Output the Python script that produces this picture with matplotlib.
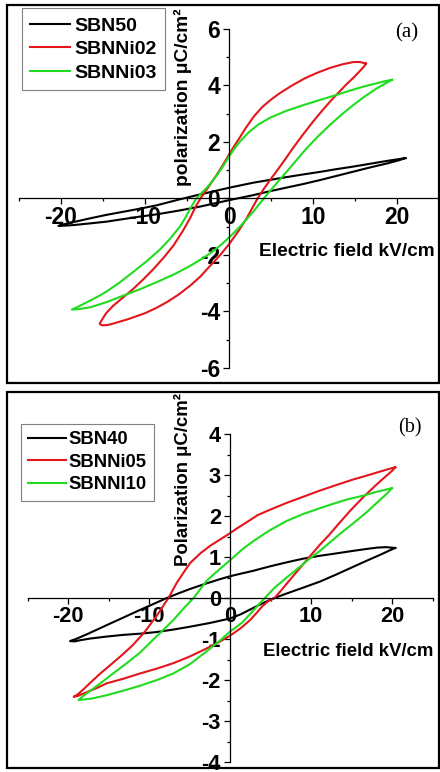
import matplotlib
matplotlib.use("Agg")
import matplotlib.pyplot as plt
from matplotlib.ticker import MultipleLocator
from matplotlib.patches import Rectangle

plt.rcParams['font.family'] = ['Liberation Sans', 'DejaVu Sans']
plt.rcParams['font.weight'] = 'bold'
plt.rcParams['axes.unicode_minus'] = False

# ---------------- Panel (a) data: E (kV/cm), P (uC/cm^2), closed loops ----------------
a_names = ["SBN50", "SBNNi02", "SBNNi03"]

sbn50_E = [21.0, 18.8, 16.8, 14.8, 12.8, 10.8, 8.8, 6.9, 4.9, 2.9, 0.0, -3.5, -6.0, -8.6, -10.6, -12.6,
           -14.6, -16.5, -18.0, -19.5, -20.3,
           -19.5, -18.5, -16.5, -14.6, -12.6, -10.6, -8.6, -6.0, -3.5, 0.0, 2.9, 4.9, 6.9, 8.8, 10.8,
           12.8, 14.8, 16.8, 18.8, 20.2, 21.0]
sbn50_P = [1.43, 1.33, 1.23, 1.13, 1.04, 0.94, 0.85, 0.76, 0.66, 0.56, 0.38, 0.14, -0.04, -0.24, -0.36, -0.47,
           -0.58, -0.70, -0.80, -0.90, -0.97,
           -0.96, -0.94, -0.88, -0.82, -0.73, -0.64, -0.56, -0.43, -0.29, -0.06, 0.12, 0.26, 0.39, 0.51, 0.65,
           0.80, 0.95, 1.10, 1.24, 1.35, 1.43]

sbnni02_E = [16.3, 15.6, 14.8, 13.5, 12.0, 10.5, 9.0, 7.5, 6.0, 5.0, 4.0, 3.0, 2.0, 1.2, 0.5, 0.0, -0.7,
             -1.5, -2.7, -3.4, -4.0, -4.6, -5.5, -6.6, -7.8, -9.0, -10.2, -11.4, -12.6, -13.8, -14.6, -15.1,
             -15.4,
             -15.1, -14.5, -13.8, -12.0, -10.0, -8.7, -7.4, -6.0, -4.6, -3.4, -2.3, -1.1, 0.0, 1.2, 2.1, 2.8,
             3.4, 4.1, 5.0, 5.7, 6.6, 7.65, 8.8, 10.0, 11.2, 12.4, 13.3, 14.0, 14.9, 15.6, 16.1, 16.3]
sbnni02_P = [4.78, 4.83, 4.83, 4.75, 4.62, 4.45, 4.25, 4.00, 3.72, 3.50, 3.25, 2.92, 2.50, 2.12, 1.80, 1.55, 1.20,
             0.82, 0.30, 0.0, -0.30, -0.68, -1.15, -1.66, -2.10, -2.50, -2.86, -3.20, -3.50, -3.80, -4.05, -4.28,
             -4.44,
             -4.49, -4.48, -4.43, -4.27, -4.06, -3.88, -3.67, -3.40, -3.08, -2.76, -2.40, -2.02, -1.62, -1.12, -0.70,
             -0.32, 0.0, 0.32, 0.70, 0.98, 1.35, 1.80, 2.26, 2.72, 3.15, 3.55, 3.83, 4.05, 4.30, 4.52, 4.68, 4.78]

sbnni03_E = [19.4, 18.5, 17.6, 16.0, 14.2, 12.4, 10.5, 8.8, 6.8, 4.9, 3.6, 2.4, 1.4, 0.6, 0.0, -0.8, -1.7,
             -2.65, -3.9, -4.6, -5.2, -5.8, -7.0, -8.2, -9.8, -11.4, -13.0, -14.6, -15.8, -16.9, -17.9, -18.7,
             -18.0, -16.5, -14.5, -12.6, -10.5, -8.6, -6.5, -4.6, -3.2, -1.9, -0.8, 0.0, 0.8, 1.5, 2.2, 2.9,
             3.6, 4.2, 4.9, 5.9, 6.9, 8.1, 9.25, 10.6, 12.0, 13.4, 14.8, 16.2, 17.6, 18.6, 19.4]
sbnni03_P = [4.20, 4.15, 4.08, 3.96, 3.80, 3.63, 3.46, 3.30, 3.10, 2.86, 2.64, 2.36, 2.05, 1.75, 1.48, 1.10, 0.72,
             0.38, 0.0, -0.35, -0.68, -0.98, -1.42, -1.80, -2.22, -2.60, -2.97, -3.30, -3.50, -3.67, -3.82, -3.93,
             -3.92, -3.85, -3.66, -3.44, -3.20, -2.96, -2.68, -2.38, -2.13, -1.87, -1.60, -1.38, -1.15, -0.93, -0.70,
             -0.46, -0.20, 0.02, 0.27, 0.62, 0.96, 1.38, 1.78, 2.20, 2.60, 2.97, 3.31, 3.62, 3.90, 4.07, 4.20]

# ---------------- Panel (b) data ----------------
b_names = ["SBN40", "SBNNi05", "SBNNI10"]

sbn40_E = [20.4, 19.3, 18.2, 17.0, 15.2, 13.2, 11.1, 9.05, 7.0, 4.9, 2.8, 0.83, 0.0, -1.23, -3.0, -4.94,
           -6.4, -7.8, -9.5, -11.1, -13.2, -15.2, -17.5, -18.9, -19.75,
           -19.2, -18.5, -17.3, -15.2, -13.2, -11.1, -9.05, -7.0, -4.94, -2.5, 0.0, 1.3, 2.5, 3.7, 4.9, 5.5,
           7.0, 9.0, 11.1, 13.2, 15.2, 17.0, 18.5, 19.7, 20.4]
sbn40_P = [1.22, 1.24, 1.23, 1.20, 1.15, 1.09, 1.03, 0.96, 0.87, 0.77, 0.66, 0.57, 0.53, 0.46, 0.35, 0.22,
           0.11, 0.0, -0.15, -0.29, -0.48, -0.66, -0.87, -0.99, -1.05,
           -1.06, -1.03, -0.99, -0.94, -0.90, -0.87, -0.83, -0.77, -0.70, -0.61, -0.50, -0.40, -0.28, -0.16, -0.05,
           0.0, 0.11, 0.25, 0.40, 0.58, 0.76, 0.92, 1.05, 1.16, 1.22]

sbnni05_E = [20.4, 19.5, 18.3, 17.3, 15.2, 13.2, 11.1, 9.05, 7.0, 4.9, 3.4, 2.0, 0.8, 0.0, -1.2, -2.4,
             -3.6, -4.94, -5.8, -6.6, -7.6, -8.3, -9.0, -10.5, -12.0, -13.5, -14.8, -16.0, -17.1, -18.1,
             -18.8, -19.3,
             -18.8, -18.1, -16.5, -15.2, -13.0, -11.1, -9.0, -7.0, -5.0, -2.88, -1.4, 0.0, 1.3, 2.47, 3.3,
             4.0, 4.7, 5.5, 6.3, 7.0, 8.5, 9.8, 11.1, 12.2, 13.2, 14.8, 16.5, 18.0, 19.3, 20.0, 20.4]
sbnni05_P = [3.19, 3.14, 3.07, 3.01, 2.89, 2.76, 2.62, 2.47, 2.32, 2.15, 2.02, 1.84, 1.69, 1.58, 1.43, 1.28,
             1.10, 0.85, 0.60, 0.36, 0.0, -0.21, -0.42, -0.82, -1.15, -1.42, -1.64, -1.84, -2.04, -2.23,
             -2.35, -2.41,
             -2.39, -2.33, -2.20, -2.08, -1.96, -1.84, -1.72, -1.59, -1.43, -1.23, -1.08, -0.92, -0.74, -0.54, -0.36,
             -0.20, -0.08, 0.0, 0.18, 0.35, 0.70, 1.00, 1.30, 1.53, 1.76, 2.12, 2.47, 2.75, 2.98, 3.10, 3.19]

sbnni10_E = [20.0, 19.2, 18.3, 16.5, 14.4, 12.3, 10.5, 9.05, 7.0, 4.9, 3.2, 1.6, 0.0, -1.3, -2.88, -4.5,
             -5.8, -7.0, -8.2, -9.3, -11.1, -12.75, -14.5, -16.0, -17.5, -18.2, -18.7,
             -17.8, -17.0, -15.2, -13.0, -11.1, -9.0, -7.0, -5.0, -2.88, -1.3, 0.0, 1.5, 2.9, 4.3, 5.5, 7.0,
             8.5, 9.9, 11.1, 12.3, 13.8, 15.2, 16.8, 18.5, 19.4, 20.0]
sbnni10_P = [2.68, 2.64, 2.60, 2.50, 2.40, 2.27, 2.15, 2.05, 1.88, 1.65, 1.43, 1.20, 0.92, 0.70, 0.42, 0.0,
             -0.27, -0.54, -0.77, -0.98, -1.33, -1.59, -1.85, -2.08, -2.30, -2.40, -2.49,
             -2.47, -2.45, -2.37, -2.25, -2.14, -2.00, -1.84, -1.62, -1.30, -1.05, -0.82, -0.60, -0.30, 0.0, 0.25,
             0.50, 0.74, 0.97, 1.15, 1.35, 1.60, 1.82, 2.08, 2.39, 2.55, 2.68]

colors = ["#000000", "#e3161b", "#1fdc1f"]

W, H = 440, 772
fig = plt.figure(figsize=(W / 100, H / 100), dpi=100)


def fx(px):
    return px / W


def fy(py):
    return 1 - py / H


# panel frames
for top, bot in [(5, 383), (392, 768)]:
    fig.add_artist(Rectangle((fx(7), fy(bot)), fx(432), (bot - top) / H, transform=fig.transFigure,
                             fill=False, lw=1.6, ec="black"))


def setup_axis(ax, ylim, ymaj, ymin, ticksize, ylabel, ylab_xy, xlab_xy, labsize):
    ax.set_xlim(-25, 25)
    ax.set_ylim(*ylim)
    for s in ["top", "right"]:
        ax.spines[s].set_visible(False)
    ax.spines["left"].set_position(("data", 0))
    ax.spines["bottom"].set_position(("data", 0))
    ax.spines["left"].set_linewidth(0.9)
    ax.spines["bottom"].set_linewidth(0.9)
    ax.patch.set_visible(False)
    ax.xaxis.set_major_locator(MultipleLocator(10))
    ax.xaxis.set_minor_locator(MultipleLocator(5))
    ax.yaxis.set_major_locator(MultipleLocator(ymaj))
    ax.yaxis.set_minor_locator(MultipleLocator(ymin))
    ax.tick_params(which="major", direction="out", length=4, width=0.9, labelsize=ticksize)
    ax.tick_params(which="minor", direction="out", length=2.5, width=0.9)
    ax.tick_params(axis="x", which="major", pad=1.5)
    ax.tick_params(axis="y", which="major", pad=2.5)
    ax.set_xticks([-20, -10, 0, 10, 20])
    ax.set_xlabel("Electric field kV/cm", fontsize=labsize, fontweight="bold")
    ax.set_ylabel(ylabel, fontsize=labsize, fontweight="bold")
    ax.xaxis.set_label_coords(*xlab_xy)
    ax.yaxis.set_label_coords(*ylab_xy)
    ax.xaxis.label.set_va("center")
    ax.yaxis.label.set_va("center")


# ---------------- Panel (a) ----------------
axa = fig.add_axes([fx(19), fy(368), fx(420), 339 / H])
setup_axis(axa, (-6, 6), 2, 1, 16.5, "polarization \u03bcC/cm\u00b2",
           (0.390, 0.798), (0.781, 0.343), 13.8)
for E, P, c, n in zip([sbn50_E, sbnni02_E, sbnni03_E], [sbn50_P, sbnni02_P, sbnni03_P], colors, a_names):
    axa.plot(E, P, color=c, lw=1.5, label=n, clip_on=False)
axa.legend(loc="upper left", bbox_to_anchor=(fx(21.7), fy(8.3)), bbox_transform=fig.transFigure,
           borderaxespad=0, frameon=True, fancybox=False, edgecolor="#808080",
           framealpha=1, handlelength=2.04, handletextpad=0.2, borderpad=0.45, labelspacing=0.3,
           prop={"weight": "bold", "size": 14})
axa.legend_.get_frame().set_linewidth(0.8)
fig.text(fx(407), fy(33), "(a)", family="Liberation Serif", fontweight="normal", fontsize=15,
         ha="center", va="center")

# ---------------- Panel (b) ----------------
axb = fig.add_axes([fx(27.5), fy(762), fx(405), 328 / H])
setup_axis(axb, (-4, 4), 1, 0.5, 15.7, "Polarization \u03bcC/cm\u00b2",
           (0.383, 0.860), (0.791, 0.336), 13.4)
for E, P, c, n in zip([sbn40_E, sbnni05_E, sbnni10_E], [sbn40_P, sbnni05_P, sbnni10_P], colors, b_names):
    axb.plot(E, P, color=c, lw=1.5, label=n, clip_on=False)
axb.legend(loc="upper left", bbox_to_anchor=(fx(21), fy(424)), bbox_transform=fig.transFigure,
           borderaxespad=0, frameon=True, fancybox=False, edgecolor="#808080",
           framealpha=1, handlelength=2.06, handletextpad=0.1, borderpad=0.4, labelspacing=0.3,
           prop={"weight": "bold", "size": 13.3})
axb.legend_.get_frame().set_linewidth(0.8)
fig.text(fx(410), fy(428), "(b)", family="Liberation Serif", fontweight="normal", fontsize=14.5,
         ha="center", va="center")

fig.savefig("out.png", dpi=100)
